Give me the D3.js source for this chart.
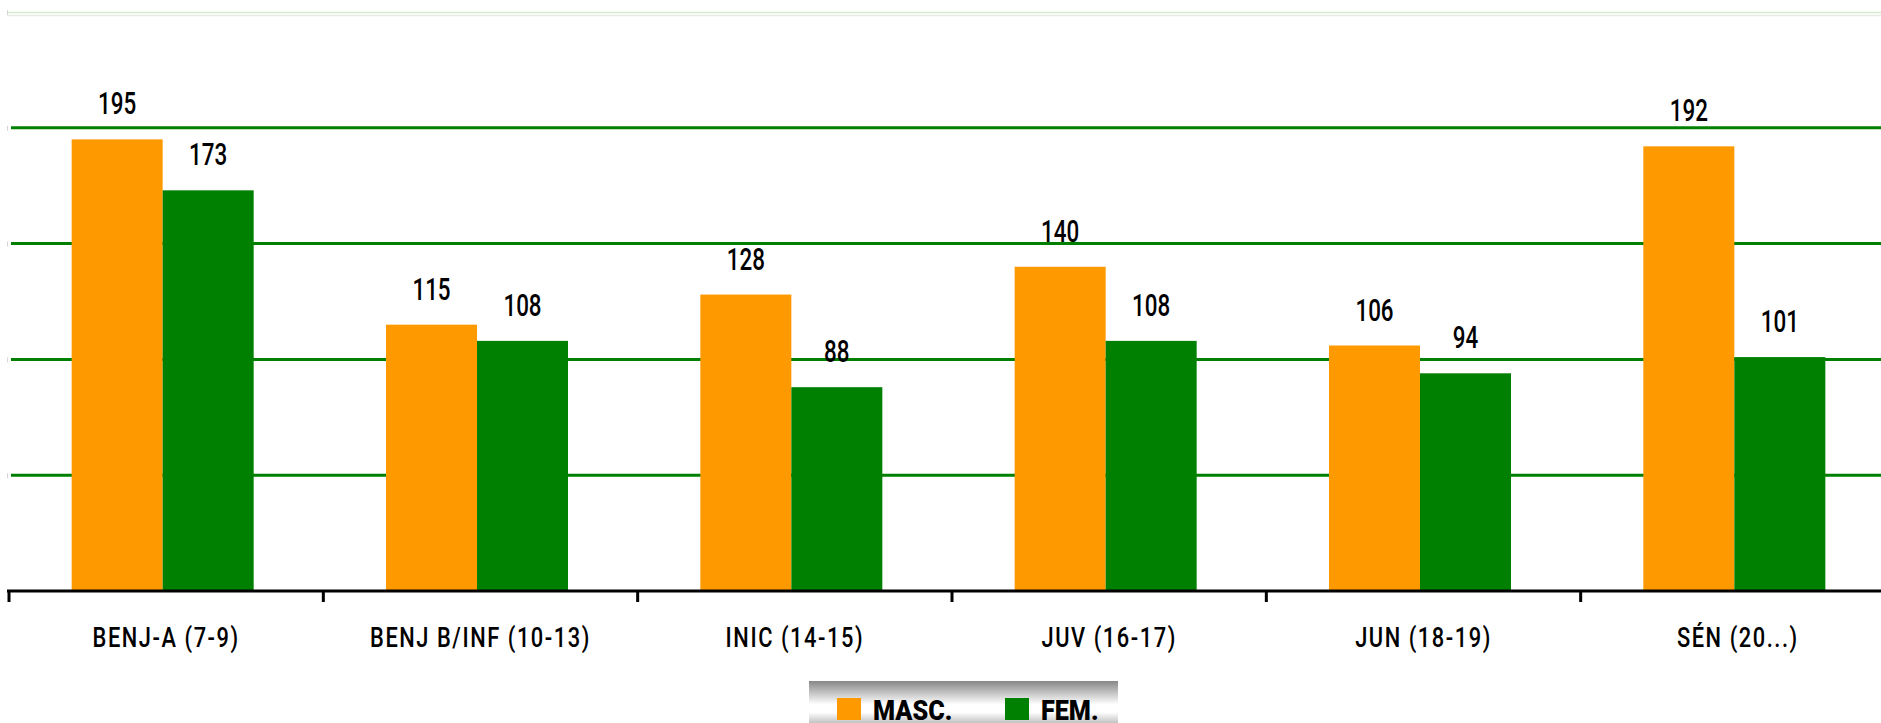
<!DOCTYPE html>
<html>
<head>
<meta charset="utf-8">
<script src="https://cdn.jsdelivr.net/npm/d3@7"></script>
<style>
    body { margin: 0; background: #fff; }
    svg { display: block; }
    .lbl { font-family: Roboto, "Noto Sans", sans-serif; fill: #000; }
</style>
</head>
<body>
<div id="chart-area"></div>
<script>
// athletes per age category, split by gender

let categories = ["BENJ-A (7-9)", "BENJ B/INF (10-13)", "INIC (14-15)", "JUV (16-17)", "JUN (18-19)", "SÉN (20...)"];
let masc = [195, 115, 128, 140, 106, 192];
let fem = [173, 108, 88, 108, 94, 101];
let seriesNames = ["MASC.", "FEM."];
let gridTicks = [50, 100, 150, 200];

let colors = {"MASC.": "#ff9900", "FEM.": "#008000"};

let width = 1881, height = 723;

let svg = d3.select("#chart-area").append("svg")
    .attr("width", width)
    .attr("height", height);

let data = categories.map((c, i) => ({cat: c, "MASC.": masc[i], "FEM.": fem[i]}));

// Scales
let x = d3.scaleBand()
    .domain(categories)
    .range([9, 1895]);

let groupW = 182;
let xSub = d3.scaleBand()
    .domain(seriesNames)
    .range([0, groupW]);

let y = d3.scaleLinear()
    .domain([0, 250])
    .range([591, 12]);

// faint top border
svg.append("line")
    .attr("x1", 7).attr("x2", width)
    .attr("y1", y(250) + 0.5).attr("y2", y(250) + 0.5)
    .attr("stroke", "#d6e8d2").attr("stroke-width", 1.5);
svg.append("line")
    .attr("x1", 7).attr("x2", width)
    .attr("y1", y(250) + 3.5).attr("y2", y(250) + 3.5)
    .attr("stroke", "#e4efe1").attr("stroke-width", 1.5);

// gridlines
svg.selectAll(".grid")
    .data(gridTicks)
    .enter().append("line")
    .attr("class", "grid")
    .attr("x1", 11).attr("x2", width)
    .attr("y1", d => y(d)).attr("y2", d => y(d))
    .attr("stroke", "#008000")
    .attr("stroke-width", 3);

// little faint ticks at the left
svg.selectAll(".ytick")
    .data(gridTicks.concat([250]))
    .enter().append("line")
    .attr("class", "ytick")
    .attr("x1", 7.5).attr("x2", 7.5)
    .attr("y1", d => y(d) - 2).attr("y2", d => y(d) + 3)
    .attr("stroke", "#d0d8d0").attr("stroke-width", 1);

let groups = svg.selectAll(".group")
    .data(data)
    .enter().append("g")
    .attr("class", "group")
    .attr("transform", d => "translate(" + (x(d.cat) + (x.bandwidth() - groupW) / 2 - 3.5) + ",0)");

groups.selectAll("rect")
    .data(d => seriesNames.map(s => ({key: s, value: d[s]})))
    .enter().append("rect")
    .attr("x", d => xSub(d.key))
    .attr("width", xSub.bandwidth())
    .attr("y", d => y(d.value))
    .attr("height", d => y(0) - y(d.value))
    .attr("fill", d => colors[d.key]);

// value labels, squeezed sideways to look like a condensed face
groups.selectAll(".val")
    .data(d => seriesNames.map(s => ({key: s, value: d[s]})))
    .enter().append("text")
    .attr("class", "val lbl")
    .attr("transform", d => "translate(" + (xSub(d.key) + xSub.bandwidth() / 2) + "," + (y(d.value) - 25) + ") scale(0.7,1)")
    .attr("text-anchor", "middle")
    .style("font-size", "32px")
    .style("font-weight", 500)
    .text(d => d.value);

// x axis
let xAxis = d3.axisBottom(x).tickSize(0).tickPadding(0);
let xg = svg.append("g")
    .attr("class", "x-axis")
    .attr("transform", "translate(0," + y(0) + ")")
    .call(xAxis);
xg.select(".domain").remove();
xg.selectAll(".tick text")
    .attr("class", "lbl")
    .attr("dy", null)
    .attr("y", 0)
    .attr("transform", "translate(0,56) scale(0.78,1)")
    .style("font-size", "28px")
    .style("font-weight", 500)
    .style("letter-spacing", "2px");

svg.append("line")
    .attr("x1", 7).attr("x2", width)
    .attr("y1", y(0)).attr("y2", y(0))
    .attr("stroke", "#000").attr("stroke-width", 3);

let bounds = categories.map(c => x(c)).concat([x.range()[1]]);
svg.selectAll(".xtick")
    .data(bounds)
    .enter().append("line")
    .attr("class", "xtick")
    .attr("x1", d => d).attr("x2", d => d)
    .attr("y1", y(0)).attr("y2", y(0) + 11)
    .attr("stroke", "#000").attr("stroke-width", 3);

// legend
let defs = svg.append("defs");
let grad = defs.append("linearGradient")
    .attr("id", "legGrad")
    .attr("x1", 0).attr("x2", 0).attr("y1", 0).attr("y2", 1);
grad.append("stop").attr("offset", "0%").attr("stop-color", "#878787");
grad.append("stop").attr("offset", "45%").attr("stop-color", "#ffffff");
grad.append("stop").attr("offset", "60%").attr("stop-color", "#ffffff");
grad.append("stop").attr("offset", "100%").attr("stop-color", "#8a8a8a");

let legend = svg.append("g").attr("transform", "translate(809,681)");
legend.append("rect")
    .attr("width", 309).attr("height", 52)
    .attr("fill", "url(#legGrad)");

let legX = d3.scaleOrdinal().domain(seriesNames).range([28, 196]);

let items = legend.selectAll(".item")
    .data(seriesNames)
    .enter().append("g")
    .attr("class", "item")
    .attr("transform", d => "translate(" + legX(d) + ",0)");
items.append("rect")
    .attr("y", 17).attr("width", 24).attr("height", 22)
    .attr("fill", d => colors[d]);
items.append("text")
    .attr("class", "lbl")
    .attr("transform", "translate(36,39) scale(0.9,1)")
    .style("font-size", "28px")
    .style("font-weight", 900)
    .text(d => d);
</script>
</body>
</html>
